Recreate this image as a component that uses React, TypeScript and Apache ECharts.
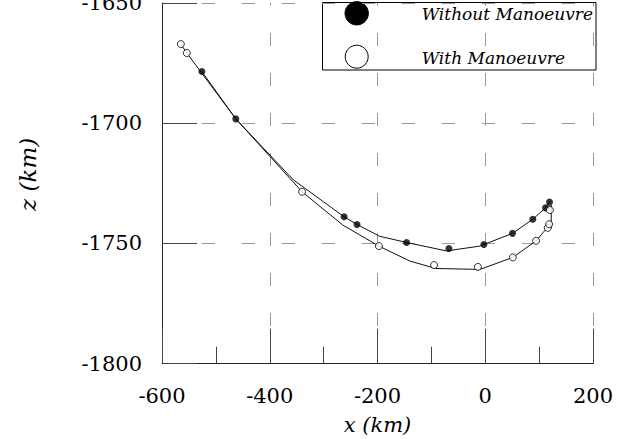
import React, { useEffect, useRef } from "react";
import * as echarts from "echarts";

// ---- data (x in km, z in km) ----
const withoutMarkersX = [-526, -463, -262, -238, -146, -67.5, -2.6, 50.6, 88.3, 111.9, 119.3];
const withoutMarkersZ = [-1678.5, -1698.2, -1738.9, -1742.1, -1749.6, -1752.1, -1750.4, -1745.8, -1739.9, -1735.2, -1732.8];

const withMarkersX = [-565, -554, -340, -197.4, -95, -13.7, 51.2, 94.4, 116, 118.6, 119.9];
const withMarkersZ = [-1667.1, -1670.8, -1728.5, -1751.1, -1759, -1759.75, -1755.8, -1748.9, -1743.5, -1742, -1736.1];

const withoutPathX = [-526, -463, -356, -262, -238, -196, -146, -72, -10, 50.6, 88.3, 111.9, 119.3];
const withoutPathZ = [-1678.5, -1698.2, -1723.6, -1738.9, -1742.1, -1747, -1749.6, -1753.1, -1751.1, -1745.8, -1739.9, -1735.2, -1732.8];

const withPathX = [-565, -554, -463, -340, -264, -197.4, -140, -92, -10, 51.2, 94.4, 116.7, 122.5, 122.5];
const withPathZ = [-1667.1, -1670.8, -1698.2, -1728.5, -1742.4, -1751.1, -1757.3, -1760.4, -1760.8, -1755.8, -1748.9, -1743, -1743.5, -1734];

const seriesNames = ["Without Manoeuvre", "With Manoeuvre"];
const xRange = [-600, 200];
const zRange = [-1800, -1650];
const xStep = 200;
const zStep = 50;

const zip = (a: number[], b: number[]) => a.map((v, i) => [v, b[i]]);

const FONT = "DejaVu Serif";

export default function App() {
  const ref = useRef<HTMLDivElement>(null);
  useEffect(() => {
    if (!ref.current) return;
    const chart = echarts.init(ref.current, null, { renderer: "svg" });
    const gridColor = "#9a9a9a";
    chart.setOption({
      animation: false,
      backgroundColor: "#ffffff",
      textStyle: { fontFamily: FONT },
      grid: {
        left: 162,
        top: 3,
        right: 31,
        bottom: 75.3,
        containLabel: false,
        outerBoundsMode: "none",
      },
      xAxis: {
        type: "value",
        min: xRange[0],
        max: xRange[1],
        interval: xStep,
        name: "x (km)",
        nameLocation: "middle",
        nameGap: 51,
        nameTextStyle: { fontFamily: FONT, fontStyle: "italic", fontSize: 21, color: "#000" },
        axisLine: { show: true, onZero: false, lineStyle: { color: "#222", width: 1 } },
        axisTick: { show: true, inside: true, length: 35, lineStyle: { color: "#444", width: 1 } },
        minorTick: { show: true, splitNumber: 2, length: 17, lineStyle: { color: "#444", width: 1 } },
        axisLabel: {
          margin: 22,
          fontFamily: FONT,
          fontSize: 21,
          color: "#000",
          formatter: (v: number) => String(v),
        },
        splitLine: {
          show: true,
          lineStyle: { color: gridColor, width: 1, type: [13, 27], dashOffset: 10 },
        },
      },
      yAxis: {
        type: "value",
        min: zRange[0],
        max: zRange[1],
        interval: zStep,
        name: "z (km)",
        nameLocation: "middle",
        nameRotate: 90,
        nameGap: 123,
        nameTextStyle: {
          fontFamily: FONT,
          fontStyle: "italic",
          fontSize: 23,
          color: "#000",
          padding: [0, 0, 0, 18],
        },
        axisLine: { show: true, onZero: false, lineStyle: { color: "#222", width: 1 } },
        axisTick: { show: true, inside: true, length: 35, lineStyle: { color: "#444", width: 1 } },
        axisLabel: {
          margin: 20,
          fontFamily: FONT,
          fontSize: 21,
          color: "#000",
          formatter: (v: number) => String(v),
        },
        splitLine: {
          show: true,
          lineStyle: { color: gridColor, width: 1, type: [13, 27], dashOffset: 0 },
        },
      },
      series: [
        {
          name: seriesNames[0] + " path",
          type: "line",
          data: zip(withoutPathX, withoutPathZ),
          symbol: "none",
          lineStyle: { color: "#111", width: 1 },
          z: 3,
        },
        {
          name: seriesNames[1] + " path",
          type: "line",
          data: zip(withPathX, withPathZ),
          symbol: "none",
          lineStyle: { color: "#111", width: 1 },
          z: 3,
        },
        {
          name: seriesNames[0],
          type: "scatter",
          data: zip(withoutMarkersX, withoutMarkersZ),
          symbol: "circle",
          symbolSize: 7,
          itemStyle: { color: "#000", borderColor: "#000", borderWidth: 0 },
          z: 5,
        },
        {
          name: seriesNames[1],
          type: "scatter",
          data: zip(withMarkersX, withMarkersZ),
          symbol: "circle",
          symbolSize: 7,
          itemStyle: { color: "#fff", borderColor: "#000", borderWidth: 1 },
          z: 5,
        },
      ],
      graphic: [
        {
          type: "group",
          z: 100,
          children: [
            {
              type: "rect",
              shape: { x: 322.5, y: 2.5, width: 273.5, height: 67.5 },
              style: { fill: "#fff", stroke: "#000", lineWidth: 1 },
            },
            {
              type: "circle",
              shape: { cx: 356.7, cy: 13.3, r: 11.7 },
              style: { fill: "#000", stroke: "#000", lineWidth: 1 },
            },
            {
              type: "circle",
              shape: { cx: 356.7, cy: 56.7, r: 11.5 },
              style: { fill: "#fff", stroke: "#000", lineWidth: 1 },
            },
            {
              type: "text",
              x: 421.7,
              y: 14,
              style: {
                text: seriesNames[0],
                fontFamily: FONT,
                fontStyle: "italic",
                fontSize: 17,
                fill: "#000",
                verticalAlign: "middle",
                align: "left",
              },
            },
            {
              type: "text",
              x: 421.7,
              y: 57.5,
              style: {
                text: seriesNames[1],
                fontFamily: FONT,
                fontStyle: "italic",
                fontSize: 17,
                fill: "#000",
                verticalAlign: "middle",
                align: "left",
              },
            },
          ],
        },
      ],
    });
    return () => chart.dispose();
  }, []);
  return (
    <div
      ref={ref}
      style={{ position: "fixed", left: 0, top: 0, width: 624, height: 439, background: "#fff" }}
    />
  );
}
